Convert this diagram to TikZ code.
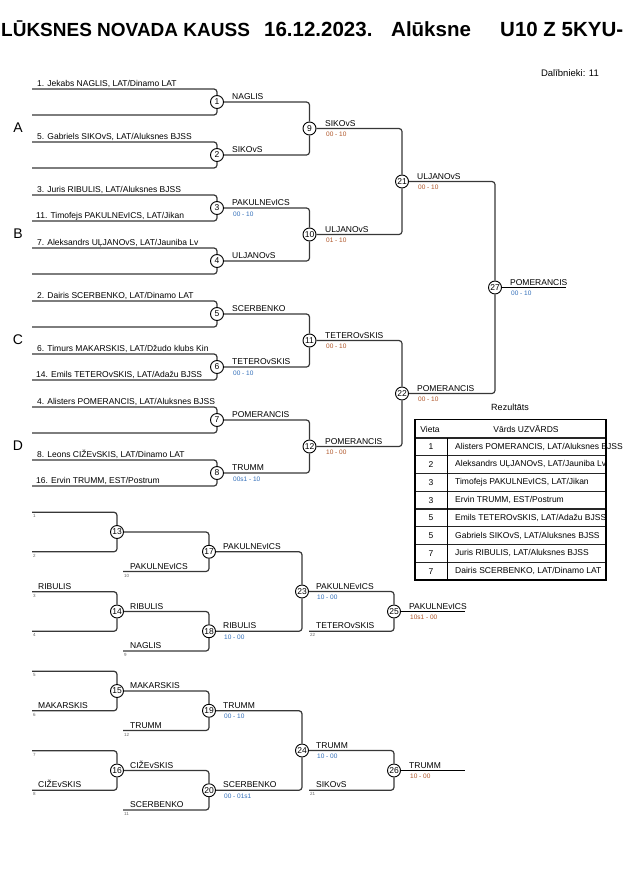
\documentclass[tikz,border=0pt]{standalone}
\usepackage{fontspec}
\setmainfont{Liberation Sans}
\definecolor{brc}{RGB}{55,55,55}
\definecolor{scb}{RGB}{50,110,185}
\definecolor{sco}{RGB}{175,85,40}
\begin{document}
\begin{tikzpicture}[x=1pt,y=-1pt,
  br/.style={draw=brc,line width=1.2pt,rounded corners=3pt},
  fin/.style={draw=black,line width=0.9pt},
  mc/.style={circle,draw=black,line width=0.9pt,fill=white,inner sep=0pt,minimum size=13pt,font=\fontsize{8.5}{9}\selectfont},
  nm/.style={anchor=base west,inner sep=0pt,font=\fontsize{8.5}{9}\selectfont},
  scB/.style={anchor=base west,inner sep=0pt,font=\fontsize{6.5}{7}\selectfont,text=scb},
  scO/.style={anchor=base west,inner sep=0pt,font=\fontsize{6.5}{7}\selectfont,text=sco},
  sm/.style={anchor=base west,inner sep=0pt,font=\fontsize{4.5}{5}\selectfont,text=black!60},
  grp/.style={inner sep=0pt,font=\fontsize{14}{15}\selectfont},
  ttl/.style={anchor=base west,inner sep=0pt,font=\fontsize{19}{20}\selectfont\bfseries},
  ttlb/.style={anchor=base west,inner sep=0pt,font=\fontsize{20.5}{21}\selectfont\bfseries},
  tb/.style={inner sep=0pt,font=\fontsize{8.5}{9}\selectfont},
  tbl/.style={line width=1.6pt,draw=black},
  tbr/.style={line width=1.3pt,draw=black!85},
  tbv/.style={line width=0.8pt,draw=black}
]
\useasboundingbox (0,0) rectangle (630,891);

% ---------- title ----------
\node[ttl] (t1) at (1,36.5) {LŪKSNES NOVADA KAUSS};
\node[ttlb] (t2) at (264,36.5) {16.12.2023.};
\node[ttlb] (t3) at (391,36.5) {Alūksne};
\node[ttlb] (t4) at (500,36.5) {U10 Z 5KYU-};
\node[anchor=base east,inner sep=0pt,font=\fontsize{9.5}{10}\selectfont] (dal) at (599,77) {Dalībnieki: 11};

% ---------- group letters ----------
\node[grp] (gA) at (18,127.5) {A};
\node[grp] (gB) at (18,233.5) {B};
\node[grp] (gC) at (18,339.5) {C};
\node[grp] (gD) at (18,445.5) {D};

% ---------- main bracket, round 1 ----------
\foreach \i/\c in {1/102,2/155,3/208,4/261,5/314,6/367,7/420,8/473} {
  \coordinate (a\i) at (32,\c-13);
  \coordinate (b\i) at (32,\c+13);
  \node[mc] (m\i) at (217,\c) {\i};
}
\foreach \i in {1,...,8} {
  \draw[br] (a\i) -| (m\i);
  \draw[br] (b\i) -| (m\i);
}
% entrants
\node[nm] (e1) at (37,86.7) {1. Jekabs NAGLIS, LAT/Dinamo LAT};
\node[nm] (e5) at (37,139.7) {5. Gabriels SIKOvS, LAT/Aluksnes BJSS};
\node[nm] (e3) at (37,192.7) {3. Juris RIBULIS, LAT/Aluksnes BJSS};
\node[nm] (e11) at (36,218.7) {11. Timofejs PAKULNEvICS, LAT/Jikan};
\node[nm] (e7) at (37,245.7) {7. Aleksandrs UĻJANOvS, LAT/Jauniba Lv};
\node[nm] (e2) at (37,298.7) {2. Dairis SCERBENKO, LAT/Dinamo LAT};
\node[nm] (e6) at (37,351.7) {6. Timurs MAKARSKIS, LAT/Džudo klubs Kin};
\node[nm] (e14) at (36,377.7) {14. Emils TETEROvSKIS, LAT/Adažu BJSS};
\node[nm] (e4) at (37,404.7) {4. Alisters POMERANCIS, LAT/Aluksnes BJSS};
\node[nm] (e8) at (37,457.7) {8. Leons CIŽEvSKIS, LAT/Dinamo LAT};
\node[nm] (e16) at (36,483.7) {16. Ervin TRUMM, EST/Postrum};

% ---------- round 2 ----------
\node[mc] (m9)  at (309.5,128.5) {9};
\node[mc] (m10) at (309.5,234.5) {10};
\node[mc] (m11) at (309.5,340.5) {11};
\node[mc] (m12) at (309.5,446.5) {12};
\draw[br] (m1) -| (m9);  \draw[br] (m2) -| (m9);
\draw[br] (m3) -| (m10); \draw[br] (m4) -| (m10);
\draw[br] (m5) -| (m11); \draw[br] (m6) -| (m11);
\draw[br] (m7) -| (m12); \draw[br] (m8) -| (m12);
\node[nm] (w1) at (232,99.7) {NAGLIS};
\node[nm] (w2) at (232,152.7) {SIKOvS};
\node[nm] (w3) at (232,205.7) {PAKULNEvICS};
\node[scB] (s3) at (233,216) {00 - 10};
\node[nm] (w4) at (232,258.7) {ULJANOvS};
\node[nm] (w5) at (232,311.7) {SCERBENKO};
\node[nm] (w6) at (232,364.7) {TETEROvSKIS};
\node[scB] (s6) at (233,375) {00 - 10};
\node[nm] (w7) at (232,417.7) {POMERANCIS};
\node[nm] (w8) at (232,470.7) {TRUMM};
\node[scB] (s8) at (233,481) {00s1 - 10};

% ---------- round 3 ----------
\node[mc] (m21) at (402,181.5) {21};
\node[mc] (m22) at (402,393.5) {22};
\draw[br] (m9) -| (m21);  \draw[br] (m10) -| (m21);
\draw[br] (m11) -| (m22); \draw[br] (m12) -| (m22);
\node[nm] (w9) at (325,126.2) {SIKOvS};
\node[scO] (s9) at (326,136.5) {00 - 10};
\node[nm] (w10) at (325,232.2) {ULJANOvS};
\node[scO] (s10) at (326,242.5) {01 - 10};
\node[nm] (w11) at (325,338.2) {TETEROvSKIS};
\node[scO] (s11) at (326,348.5) {00 - 10};
\node[nm] (w12) at (325,444.2) {POMERANCIS};
\node[scO] (s12) at (326,454.5) {10 - 00};

% ---------- round 4 / final ----------
\node[mc] (m27) at (495,287.5) {27};
\coordinate (f27) at (566,287.5);
\draw[br] (m21) -| (m27); \draw[br] (m22) -| (m27);
\draw[fin] (m27) -- (f27);
\node[nm] (w21) at (417,179.2) {ULJANOvS};
\node[scO] (s21) at (418,189.5) {00 - 10};
\node[nm] (w22) at (417,391.2) {POMERANCIS};
\node[scO] (s22) at (418,401.5) {00 - 10};
\node[nm] (w27) at (510,285.2) {POMERANCIS};
\node[scB] (s27) at (511,295.5) {00 - 10};

% ---------- results table ----------
\node[inner sep=0pt,font=\fontsize{9}{10}\selectfont] (rez) at (510,407.5) {Rezultāts};
\node[tb] (hv) at (430,429) {Vieta};
\node[tb] (hn) at (526,429) {Vārds UZVĀRDS};
\foreach \k/\p/\n in {1/1/{Alisters POMERANCIS, LAT/Aluksnes BJSS},
                      2/2/{Aleksandrs UĻJANOvS, LAT/Jauniba Lv},
                      3/3/{Timofejs PAKULNEvICS, LAT/Jikan},
                      4/3/{Ervin TRUMM, EST/Postrum},
                      5/5/{Emils TETEROvSKIS, LAT/Adažu BJSS},
                      6/5/{Gabriels SIKOvS, LAT/Aluksnes BJSS},
                      7/7/{Juris RIBULIS, LAT/Aluksnes BJSS},
                      8/7/{Dairis SCERBENKO, LAT/Dinamo LAT}} {
  \node[tb] (rp\k) at (431,438+17.75*\k-8.875) {\p};
  \node[tb,anchor=west] (rn\k) at (455,438+17.75*\k-8.875) {\n};
}
\foreach \k in {0,...,7} {
  \draw[tbr] (415,438+17.75*\k) -- (606,438+17.75*\k);
}
\draw[tbv] (447,438) -- (447,580);
\draw[tbl] (415,419.5) rectangle (606,580);

% ---------- repechage ----------
\node[mc] (m13) at (117,532) {13};
\node[mc] (m14) at (117,611.5) {14};
\node[mc] (m15) at (117,691) {15};
\node[mc] (m16) at (117,770.5) {16};
\coordinate (a13) at (32,512.25); \coordinate (b13) at (32,551.75);
\coordinate (a14) at (32,591.75); \coordinate (b14) at (32,631.25);
\coordinate (a15) at (32,671.25); \coordinate (b15) at (32,710.75);
\coordinate (a16) at (32,750.75); \coordinate (b16) at (32,790.25);
\foreach \i in {13,14,15,16} {
  \draw[br] (a\i) -| (m\i);
  \draw[br] (b\i) -| (m\i);
}
\node[sm] (q1) at (33,517.75) {1};
\node[sm] (q2) at (33,557.25) {2};
\node[sm] (q3) at (33,597.25) {3};
\node[sm] (q4) at (33,636.75) {4};
\node[sm] (q5) at (33,676.75) {5};
\node[sm] (q6) at (33,716.25) {6};
\node[sm] (q7) at (33,756.25) {7};
\node[sm] (q8) at (33,795.75) {8};
\node[nm] (r14a) at (38,589.25) {RIBULIS};
\node[nm] (r15b) at (38,708.25) {MAKARSKIS};
\node[nm] (r16b) at (38,787.75) {CIŽEvSKIS};

\node[mc] (m17) at (209,551.75) {17};
\node[mc] (m18) at (209,631.25) {18};
\node[mc] (m19) at (209,710.75) {19};
\node[mc] (m20) at (209,790.25) {20};
\coordinate (b17) at (123,571.5);
\coordinate (b18) at (123,651);
\coordinate (b19) at (123,730.5);
\coordinate (b20) at (123,810);
\draw[br] (m13) -| (m17); \draw[br] (b17) -| (m17);
\draw[br] (m14) -| (m18); \draw[br] (b18) -| (m18);
\draw[br] (m15) -| (m19); \draw[br] (b19) -| (m19);
\draw[br] (m16) -| (m20); \draw[br] (b20) -| (m20);
\node[nm] (w14) at (130,609) {RIBULIS};
\node[nm] (w15) at (130,688.5) {MAKARSKIS};
\node[nm] (w16) at (130,768) {CIŽEvSKIS};
\node[nm] (l17) at (130,569) {PAKULNEvICS};
\node[sm] (q10) at (124,577) {10};
\node[nm] (l18) at (130,648.5) {NAGLIS};
\node[sm] (q9) at (124,656.5) {9};
\node[nm] (l19) at (130,728) {TRUMM};
\node[sm] (q12) at (124,736) {12};
\node[nm] (l20) at (130,807.5) {SCERBENKO};
\node[sm] (q11) at (124,815.5) {11};

\node[mc] (m23) at (302,591.5) {23};
\node[mc] (m24) at (302,750.5) {24};
\draw[br] (m17) -| (m23); \draw[br] (m18) -| (m23);
\draw[br] (m19) -| (m24); \draw[br] (m20) -| (m24);
\node[nm] (w17) at (223,549.25) {PAKULNEvICS};
\node[nm] (w18) at (223,628.75) {RIBULIS};
\node[scB] (s18) at (224,639.25) {10 - 00};
\node[nm] (w19) at (223,708.25) {TRUMM};
\node[scB] (s19) at (224,718.75) {00 - 10};
\node[nm] (w20) at (223,787.75) {SCERBENKO};
\node[scB] (s20) at (224,798.25) {00 - 01s1};

\node[mc] (m25) at (394,611.5) {25};
\node[mc] (m26) at (394,770.5) {26};
\coordinate (b25) at (309,631.25);
\coordinate (b26) at (309,790.25);
\coordinate (f25) at (465,611.5);
\coordinate (f26) at (465,770.5);
\draw[br] (m23) -| (m25); \draw[br] (b25) -| (m25);
\draw[br] (m24) -| (m26); \draw[br] (b26) -| (m26);
\draw[fin] (m25) -- (f25);
\draw[fin] (m26) -- (f26);
\node[nm] (w23) at (316,589) {PAKULNEvICS};
\node[scB] (s23) at (317,599.5) {10 - 00};
\node[nm] (w24) at (316,748) {TRUMM};
\node[scB] (s24) at (317,758.5) {10 - 00};
\node[nm] (l25) at (316,628.75) {TETEROvSKIS};
\node[sm] (q22) at (310,636.75) {22};
\node[nm] (l26) at (316,787.75) {SIKOvS};
\node[sm] (q21) at (310,795.75) {21};
\node[nm] (w25) at (409,609) {PAKULNEvICS};
\node[scO] (s25) at (410,619.5) {10s1 - 00};
\node[nm] (w26) at (409,768) {TRUMM};
\node[scO] (s26) at (410,778.5) {10 - 00};
\end{tikzpicture}
\end{document}
